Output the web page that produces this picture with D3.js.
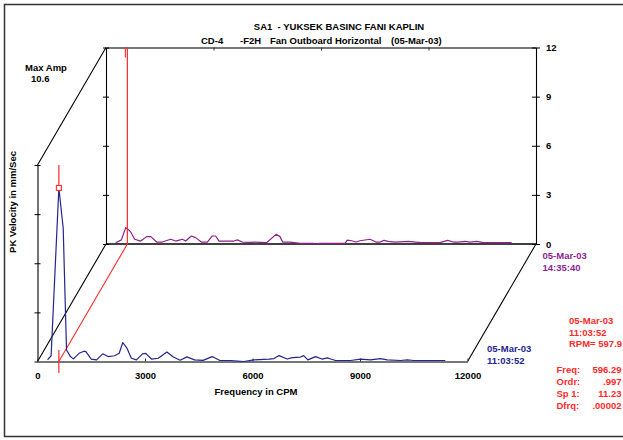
<!DOCTYPE html>
<html>
<head>
<meta charset="utf-8">
<script src="https://cdn.jsdelivr.net/npm/d3@7/dist/d3.min.js"></script>
<style>
  html, body { margin: 0; padding: 0; background: #fff; }
  svg { display: block; font-family: "Liberation Sans", Arial, sans-serif; font-weight: bold; }
  text { white-space: pre; }
</style>
</head>
<body>
<svg id="chart" width="623" height="440"></svg>
<script>
// Waterfall spectrum: two velocity spectra of the fan outboard bearing (horizontal)

// Frequency axis ticks (CPM) and amplitude ticks (mm/s)
const freqTicks = [0, 3000, 6000, 9000, 12000];
const ampTicks = [0, 3, 6, 9, 12];

// Front spectrum: 05-Mar-03 11:03:52
const frontCpm = [280, 380, 596, 717, 810, 920, 1000, 1160, 1300, 1350, 1500, 1650, 1820, 1970, 2150, 2280, 2380, 2500,
  2620, 2760, 2930, 3020, 3180, 3370, 3610, 3790, 3980, 4170, 4380, 4620, 4875, 5090, 5390, 5760, 6040, 6460, 6600,
  6740, 6970, 7110, 7340, 7430, 7545, 7760, 7940, 8085, 8180, 8320, 8735, 9015, 9290, 9570, 9760, 10130, 10320,
  10500, 10780, 11380];
const frontAmp = [0.1, 0.35, 10.6, 8.15, 0.7, 0.3, 0.16, 0.5, 0.63, 0.6, 0.15, 0.1, 0.47, 0.3, 0.35, 0.5, 1.16, 0.8,
  0.2, 0.1, 0.47, 0.5, 0.15, 0.2, 0.58, 0.27, 0.08, 0.28, 0.1, 0.07, 0.3, 0.06, 0.06, 0.0, 0.1, 0.15, 0.18,
  0.36, 0.15, 0.24, 0.27, 0.36, 0.1, 0.3, 0.15, 0.22, 0.15, 0.06, 0.06, 0.15, 0.1, 0.18, 0.1, 0.06, 0.1,
  0.06, 0.06, 0.06];

// Back spectrum: 05-Mar-03 14:35:40
const backCpm = [270, 430, 550, 640, 690, 800, 970, 1135, 1250, 1415, 1570, 1805, 1945, 2130, 2225, 2380, 2500, 2660,
  2830, 2965, 3060, 3155, 3570, 3665, 3805, 4040, 4160, 4480, 4745, 4856, 4930, 5135, 5414, 5786, 5880, 5970, 6670,
  6735, 6856, 6977, 7088, 7368, 7535, 7647, 7758, 7879, 8065, 8437, 8624, 8810, 9321, 9535, 9693, 9833, 10019,
  10158, 10344, 10530, 11321];
const backAmp = [0.08, 0.25, 1.0, 0.86, 0.73, 0.29, 0.18, 0.45, 0.45, 0.12, 0.12, 0.29, 0.18, 0.29, 0.18, 0.49, 0.39, 0.12,
  0.12, 0.49, 0.49, 0.18, 0.18, 0.25, 0.12, 0.1, 0.12, 0.08, 0.59, 0.45, 0.12, 0.12, 0.04, 0.04, 0, 0.04, 0.04,
  0.24, 0.2, 0.12, 0.2, 0.29, 0.12, 0.12, 0.22, 0.16, 0.12, 0.16, 0.12, 0.08, 0.08, 0.22, 0.12, 0.12, 0.16,
  0.12, 0.16, 0.08, 0.08];

// Cursor readout
const maxAmp = 10.6;
const cursorCpm = 596.29;
const cursorAmp = 10.6;

const svg = d3.select("#chart");
const RED = "#ff2a2a", NAVY = "#24248f", PURPLE = "#8e1f8e";
const FONT = "Liberation Sans, Arial, sans-serif";

// Scales of the front plane; the back plane is the same plane shifted by (dx, dy)
const x = d3.scaleLinear().domain([0, 12000]).range([37.5, 467.5]);
const y = d3.scaleLinear().domain([0, 12]).range([361.5, 165]);
const dx = 68.5, dy = -117.5;

const front = d3.range(frontCpm.length).map(i => ({ f: frontCpm[i], a: frontAmp[i] }));
const back = d3.range(backCpm.length).map(i => ({ f: backCpm[i], a: backAmp[i] }));

// page frame
svg.append("rect").attr("x", 4.5).attr("y", 4.5).attr("width", 640).attr("height", 432)
  .attr("fill", "none").attr("stroke", "#333").attr("stroke-width", 1.5);

// titles
svg.append("text").attr("x", 339).attr("y", 30).attr("text-anchor", "middle")
  .attr("font-size", 9.5).text("SA1  - YUKSEK BASINC FANI KAPLIN");
const sub = svg.append("text").attr("y", 43.5).attr("font-size", 9.5);
sub.append("tspan").attr("x", 201).text("CD-4");
sub.append("tspan").attr("x", 240).text("-F2H");
sub.append("tspan").attr("x", 270).text("Fan Outboard Horizontal");
sub.append("tspan").attr("x", 391).text("(05-Mar-03)");

// box edges connecting the planes
const x0 = x(0), x1 = x(12000), yb = y(0), yt = y(12);
const edges = [
  [x0, yb, x0 + dx, yb + dy],
  [x0, yt, x0 + dx, yt + dy],
  [x1, yb, x1 + dx, yb + dy]
];
svg.selectAll("line.edge").data(edges).join("line").attr("class", "edge")
  .attr("x1", d => d[0]).attr("y1", d => d[1]).attr("x2", d => d[2]).attr("y2", d => d[3])
  .attr("stroke", "#000").attr("stroke-width", 1.1);

// back plane: baseline, left axis, right axis with labels, top frequency line
const gBack = svg.append("g").attr("transform", `translate(${dx},${dy})`);
gBack.append("line").attr("x1", x0).attr("x2", x1).attr("y1", yb).attr("y2", yb)
  .attr("stroke", "#000").attr("stroke-width", 1.3);

const topAxis = gBack.append("g").attr("transform", `translate(0,${yt})`)
  .call(d3.axisTop(x).tickValues(freqTicks.slice(1, -1)).tickSizeInner(-3).tickSizeOuter(0).tickFormat(""));
topAxis.select(".domain").attr("stroke", "#777").attr("stroke-width", 2);
topAxis.selectAll(".tick line").attr("stroke", "#333");

const leftBack = gBack.append("g").attr("transform", `translate(${x0},0)`)
  .call(d3.axisLeft(y).tickValues(ampTicks).tickSize(0).tickFormat(""));
leftBack.select(".domain").attr("stroke", "#000").attr("stroke-width", 1.1);
leftBack.selectAll(".tick line").attr("x1", -3).attr("x2", 3).attr("stroke", "#000");

const rightAxis = gBack.append("g").attr("transform", `translate(${x1},0)`)
  .call(d3.axisRight(y).tickValues(ampTicks).tickFormat(d3.format("d"))
    .tickSizeOuter(0).tickSizeInner(4).tickPadding(6));
rightAxis.select(".domain").attr("stroke", "#000").attr("stroke-width", 1.1);
rightAxis.selectAll(".tick line").attr("x1", -4).attr("x2", 4).attr("stroke", "#000");
rightAxis.selectAll(".tick text").attr("font-size", 9.5).attr("font-weight", "bold")
  .attr("font-family", FONT).attr("fill", "#000");

// front plane: left amplitude axis and frequency axis
const leftFront = svg.append("g").attr("transform", `translate(${x0},0)`)
  .call(d3.axisLeft(y).tickValues(ampTicks).tickSize(0).tickFormat(""));
leftFront.select(".domain").attr("stroke", "#000").attr("stroke-width", 1.1);
leftFront.selectAll(".tick line").attr("x1", -3).attr("x2", 3).attr("stroke", "#000");

const line = d3.line().x(d => x(d.f)).y(d => y(d.a));

// back trace
gBack.append("path").datum(back).attr("d", line)
  .attr("fill", "none").attr("stroke", PURPLE).attr("stroke-width", 1.2).attr("stroke-linejoin", "round");

// cursor: line across the planes at the cursor frequency
const cx = x(cursorCpm);
svg.append("line").attr("x1", cx).attr("y1", yb).attr("x2", cx + dx).attr("y2", yb + dy)
  .attr("stroke", RED).attr("stroke-width", 1.1);
gBack.append("line").attr("x1", cx).attr("x2", cx).attr("y1", yb).attr("y2", yt)
  .attr("stroke", RED).attr("stroke-width", 1.2);
gBack.append("line").attr("x1", cx - 2).attr("x2", cx - 2).attr("y1", yt).attr("y2", yt + 10)
  .attr("stroke", RED).attr("stroke-width", 1.1);

const bottomAxis = svg.append("g").attr("transform", `translate(0,${yb})`)
  .call(d3.axisBottom(x).tickValues(freqTicks).tickFormat(d3.format("d"))
    .tickSizeInner(-3).tickSizeOuter(0).tickPadding(11));
bottomAxis.select(".domain").attr("stroke", "#777").attr("stroke-width", 2);
bottomAxis.selectAll(".tick line").attr("stroke", "#333");
bottomAxis.selectAll(".tick text").attr("font-size", 9.5).attr("font-weight", "bold")
  .attr("font-family", FONT).attr("fill", "#000");

// front trace
svg.append("path").datum(front).attr("d", line)
  .attr("fill", "none").attr("stroke", NAVY).attr("stroke-width", 1.2).attr("stroke-linejoin", "round");

// cursor on the front trace
svg.append("line").attr("x1", cx).attr("x2", cx).attr("y1", yb - 11.5).attr("y2", yb + 11.5)
  .attr("stroke", RED).attr("stroke-width", 1.2);
svg.append("line").attr("x1", cx).attr("x2", cx).attr("y1", y(12)).attr("y2", y(cursorAmp) - 2.5)
  .attr("stroke", RED).attr("stroke-width", 1.2);
svg.append("rect").attr("x", cx - 2.5).attr("y", y(cursorAmp) - 2.5).attr("width", 5).attr("height", 5)
  .attr("fill", "#fff").attr("stroke", RED).attr("stroke-width", 1.1);

// axis titles
svg.append("text").attr("x", 256).attr("y", 395).attr("text-anchor", "middle")
  .attr("font-size", 9.5).text("Frequency in CPM");
svg.append("text").attr("transform", "translate(15.5,202) rotate(-90)").attr("text-anchor", "middle")
  .attr("font-size", 9.5).text("PK Velocity in mm/Sec");

svg.append("text").attr("x", 25).attr("y", 70.5).attr("font-size", 9.5).text("Max Amp");
svg.append("text").attr("x", 31).attr("y", 82).attr("font-size", 9.5).text(maxAmp.toFixed(1));

// trace labels
const lab = (xx, yy, color, lines) => {
  const t = svg.append("text").attr("x", xx).attr("y", yy).attr("font-size", 9.5).attr("fill", color);
  lines.forEach((s, i) => t.append("tspan").attr("x", xx).attr("dy", i ? 11.5 : 0).text(s));
};
lab(542.5, 259, PURPLE, ["05-Mar-03", "14:35:40"]);
lab(487, 352, NAVY, ["05-Mar-03", "11:03:52"]);
lab(569, 324, RED, ["05-Mar-03", "11:03:52", "RPM= 597.9"]);

// cursor readout
const keys = ["Freq:", "Ordr:", "Sp 1:", "Dfrq:"];
const vals = [cursorCpm.toFixed(2), ".997", "11.23", ".00002"];
keys.forEach((k, i) => {
  svg.append("text").attr("x", 556.5).attr("y", 373 + i * 12.1).attr("font-size", 9.5).attr("fill", RED).text(k);
  svg.append("text").attr("x", 621.5).attr("y", 373 + i * 12.1).attr("font-size", 9.5).attr("fill", RED)
    .attr("text-anchor", "end").text(vals[i]);
});
</script>
</body>
</html>
